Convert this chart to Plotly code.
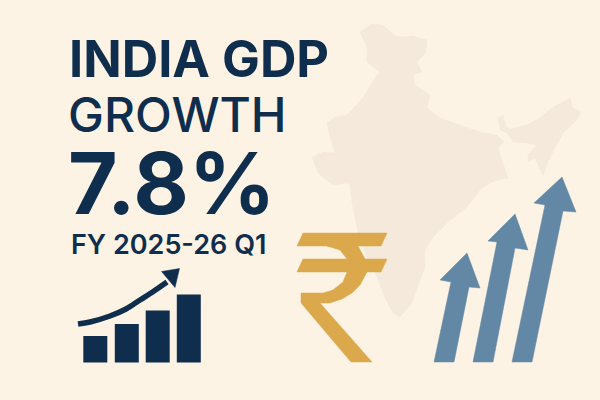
import plotly.graph_objects as go

BG = "#fdf3e4"
NAVY = "#0f2e4e"
MAP_COL = "#f4e9da"
GOLD = "#dba84c"
BLUE = "#6288a5"

# mini bar chart
bar_x = [95.3, 126.8, 157.7, 188.8]
bar_heights = [26.5, 38.5, 52, 68]
bar_base = 362.5

# trend line over the bars
trend_x = [78, 90, 110, 126, 140, 154, 167]
trend_y = [324, 322, 316, 309, 300, 291, 282]
trend_head_x = [179.5, 161.5, 175, 179.5]
trend_head_y = [268.5, 271.5, 287.5, 268.5]

# india outline
india_x = [360, 372, 383, 397, 413, 427, 426, 417, 422, 413, 415, 430, 427, 440, 460, 480, 497, 504, 498, 503, 508,
           498, 490, 480, 467, 447, 433, 425, 425, 420, 412, 400, 393, 385, 377, 367, 358, 352, 350, 348, 333, 318,
           312, 323, 335, 330, 327, 335, 347, 363, 375, 380, 367, 367, 360]
india_y = [32, 24, 25, 37, 36, 40, 52, 62, 72, 75, 85, 95, 108, 118, 125, 132, 135, 142, 148, 163, 178,
           180, 183, 190, 207, 223, 237, 250, 267, 280, 303, 317, 313, 298, 277, 257, 233, 203, 185, 183, 185, 173,
           157, 152, 153, 137, 123, 117, 115, 98, 78, 72, 62, 47, 32]
northeast_x = [498, 503, 506, 510, 527, 540, 553, 570, 573, 581, 577, 563, 555, 548, 543, 538, 535, 528, 528, 537,
               527, 513, 507, 500, 498]
northeast_y = [118, 115, 127, 129, 125, 118, 107, 98, 108, 112, 120, 133, 148, 162, 175, 165, 158, 162, 155, 145,
               143, 142, 133, 130, 118]

# rupee sign
rupee_top_x = [303, 387, 381, 297, 303]
rupee_top_y = [233, 233, 246, 246, 233]
rupee_mid_x = [303, 387, 381, 297, 303]
rupee_mid_y = [259, 259, 272, 272, 259]
rupee_body_x = [327, 358, 365, 367, 360, 352, 342, 330, 320, 372, 351, 301, 301, 323, 333, 343, 347, 347, 340, 327]
rupee_body_y = [246, 246, 259, 272, 285, 293, 299, 303, 303, 362, 362, 303, 293, 293, 290, 282, 272, 259, 250, 246]

# growth arrows
arrows_x = [
    [434, 454, 469, 480, 467, 440, 451, 434],
    [473, 493, 515, 528, 515, 488, 497, 473],
    [512, 532, 563, 576, 562, 534, 545, 512],
]
arrows_y = [
    [362, 362, 287, 288, 253, 280, 282, 362],
    [362, 362, 248, 250, 214, 241, 242, 362],
    [362, 362, 211, 212, 177, 203, 205, 362],
]

# headline text
labels = ["INDIA GDP", "GROWTH", "7.8%", "FY 2025-26 Q1"]
label_x = [66.5, 66, 66, 69]
label_y = [58, 114, 183, 244]
label_sizes = [50.5, 48, 85.5, 27]
label_weights = [700, 500, 700, 600]

fig = go.Figure()


def add_shape(xs, ys, color):
    fig.add_trace(go.Scatter(x=xs, y=ys, mode="lines", fill="toself", fillcolor=color,
                             line=dict(color=color, width=0.5), hoverinfo="skip", showlegend=False))


add_shape(india_x, india_y, MAP_COL)
add_shape(northeast_x, northeast_y, MAP_COL)
add_shape(rupee_top_x, rupee_top_y, GOLD)
add_shape(rupee_mid_x, rupee_mid_y, GOLD)
add_shape(rupee_body_x, rupee_body_y, GOLD)
for ax_, ay_ in zip(arrows_x, arrows_y):
    add_shape(ax_, ay_, BLUE)

fig.add_trace(go.Bar(x=bar_x, y=[-h for h in bar_heights], base=bar_base, width=24,
                     marker=dict(color=NAVY, line=dict(width=0)), hoverinfo="skip", showlegend=False))
fig.add_trace(go.Scatter(x=trend_x, y=trend_y, mode="lines", hoverinfo="skip", showlegend=False,
                         line=dict(color=NAVY, width=5.5, shape="spline")))
add_shape(trend_head_x, trend_head_y, NAVY)

for i in range(len(labels)):
    fig.add_annotation(x=label_x[i], y=label_y[i], text=labels[i], showarrow=False,
                       xanchor="left", yanchor="middle",
                       font=dict(family="Inter", size=label_sizes[i], color=NAVY, weight=label_weights[i]))

fig.update_layout(width=600, height=400, margin=dict(l=0, r=0, t=0, b=0),
                  paper_bgcolor=BG, plot_bgcolor=BG, showlegend=False,
                  xaxis=dict(range=[0, 600], visible=False, fixedrange=True),
                  yaxis=dict(range=[400, 0], visible=False, fixedrange=True))
# the page's default body margin would shift the figure by 8px
fig.write_html("out.html", config={"displayModeBar": False},
               post_script="document.body.style.margin='0';document.body.style.background='" + BG + "';")
